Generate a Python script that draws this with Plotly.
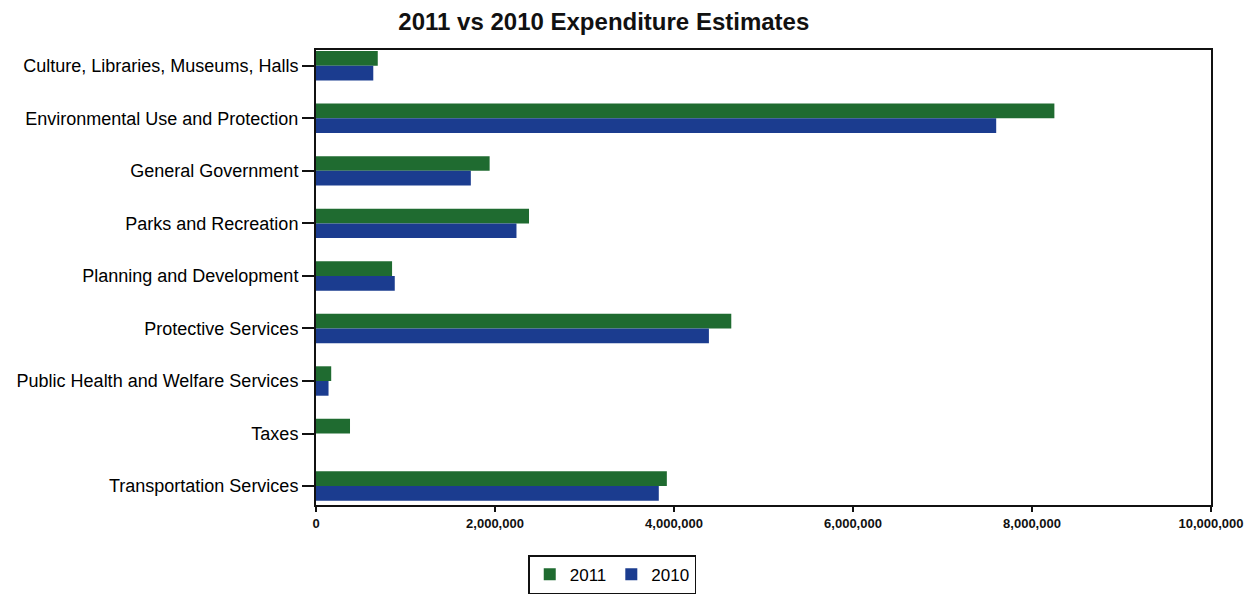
import plotly.graph_objects as go

categories = [
    "Culture, Libraries, Museums, Halls",
    "Environmental Use and Protection",
    "General Government",
    "Parks and Recreation",
    "Planning and Development",
    "Protective Services",
    "Public Health and Welfare Services",
    "Taxes",
    "Transportation Services",
]
values_2011 = [690000, 8250000, 1940000, 2380000, 850000, 4640000, 170000, 380000, 3920000]
values_2010 = [640000, 7600000, 1730000, 2240000, 880000, 4390000, 140000, 0, 3830000]
tick_values = [0, 2000000, 4000000, 6000000, 8000000, 10000000]
tick_labels = ["0", "2,000,000", "4,000,000", "6,000,000", "8,000,000", "10,000,000"]

GREEN = "#1f6b30"
BLUE = "#1b3c8f"

fig = go.Figure()
fig.add_trace(go.Bar(y=categories, x=values_2011, orientation="h", name="2011",
                     marker=dict(color=GREEN, line=dict(width=0))))
fig.add_trace(go.Bar(y=categories, x=values_2010, orientation="h", name="2010",
                     marker=dict(color=BLUE, line=dict(width=0))))

n = len(categories)
fig.update_layout(
    width=1245, height=596,
    margin=dict(l=316, r=34, t=50, b=91, autoexpand=False),
    paper_bgcolor="white", plot_bgcolor="white",
    barmode="group", bargap=0.44, bargroupgap=0,
    font=dict(family="Liberation Sans, Arial, sans-serif", color="#111"),
    title=dict(text="<b>2011 vs 2010 Expenditure Estimates</b>",
               x=0.485, xanchor="center", y=0.963, yanchor="middle",
               font=dict(size=24, color="#111")),
    legend=dict(orientation="h", x=0.331, xanchor="center", y=-0.196, yanchor="bottom",
                bordercolor="#111", borderwidth=1.5, font=dict(size=17, color="#000"),
                itemsizing="constant", traceorder="normal"),
    xaxis=dict(range=[0, 10000000], tickvals=tick_values, ticktext=tick_labels,
               showgrid=False, zeroline=False, showline=True, linecolor="#111",
               linewidth=2, mirror=True, ticks="outside", ticklen=5, tickwidth=2,
               tickcolor="#111", tickfont=dict(size=13, color="#111",
                                               family="Liberation Sans Narrow, Liberation Sans, Arial",
                                               weight="bold")),
    yaxis=dict(range=[n - 1 + 0.36, -0.3], showgrid=False, showline=True,
               linecolor="#111", linewidth=2, mirror=True,
               ticks="outside", ticklen=12, tickwidth=2, tickcolor="#111",
               tickfont=dict(size=18, color="#000")),
)

fig.write_html("out.html")
